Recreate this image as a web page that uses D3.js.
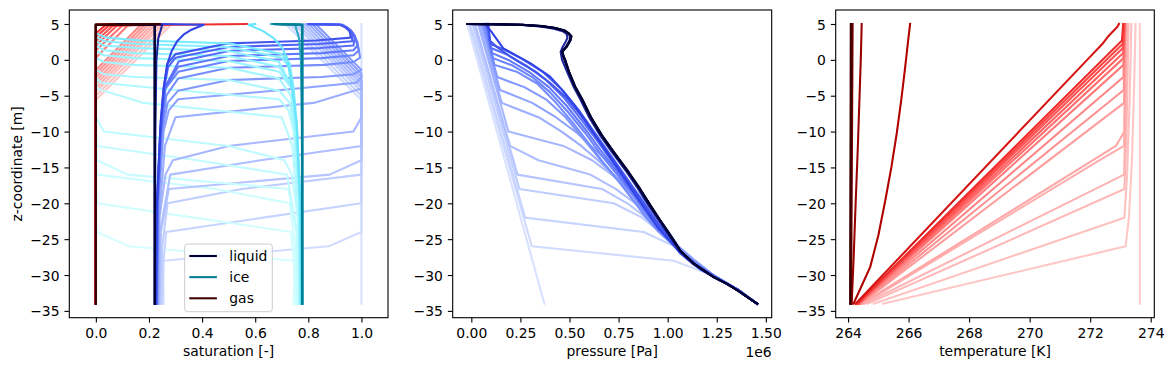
<!DOCTYPE html>
<html><head><meta charset="utf-8">
<script src="https://cdn.jsdelivr.net/npm/d3@7"></script>
<style>body{margin:0;background:#fff} svg{display:block} text{font-family:"DejaVu Sans",sans-serif;fill:#000}</style>
</head><body><svg id="c" width="1173" height="371"></svg>
<script>
// ---------------- data ----------------
const zTicks = [5, 0, -5, -10, -15, -20, -25, -30, -35];
const satTicks = [0, 0.2, 0.4, 0.6, 0.8, 1.0];
const presTicks = [0, 0.25, 0.5, 0.75, 1.0, 1.25, 1.5];   // x 1e6 Pa
const tempTicks = [264, 266, 268, 270, 272, 274];
const phaseNames = ["liquid", "ice", "gas"];

// each profile: list of [value, z]  (profiles ordered in time)
const liquidProfiles = [
 [[1,-34],[1,5]],
 [[0.255,-34],[0.254,-30],[0.253,-28],[0.876,-26],[1,-24],[1,-5.6],[0.72,4.8],[0.7,5]],
 [[0.25,-34],[0.255,-28],[0.265,-24],[0.63,-22],[1,-20],[1,-5.0],[0.735,4.8],[0.72,5]],
 [[0.245,-34],[0.25,-26],[0.27,-20],[0.55,-18],[1,-16],[1,-4.4],[0.752,4.8],[0.74,5]],
 [[0.24,-34],[0.245,-24],[0.275,-18],[0.88,-16],[1,-14],[1,-3.9],[0.765,4.8],[0.75,5]],
 [[0.238,-34],[0.242,-24],[0.28,-16],[0.62,-14],[1,-12],[1,-3.4],[0.779,4.8],[0.76,5]],
 [[0.236,-34],[0.24,-22],[0.262,-16],[0.29,-14],[0.5,-12],[0.97,-10],[1,-8],[1,-2.9],[0.792,4.8],[0.78,5]],
 [[0.234,-34],[0.238,-22],[0.26,-12],[0.3,-8],[0.82,-6],[1,-4],[1,-2.4],[0.806,4.8],[0.79,5]],
 [[0.232,-34],[0.236,-20],[0.255,-10],[0.275,-7],[0.31,-5.5],[0.7,-4.2],[0.98,-3.2],[1,-2.5],[1,-1.9],[0.819,4.8],[0.8,5]],
 [[0.231,-34],[0.235,-20],[0.25,-10],[0.27,-6],[0.31,-4.3],[0.5,-2.8],[0.85,-2.4],[0.97,-2.0],[1,-1.4],[0.833,4.8],[0.81,5]],
 [[0.23,-34],[0.234,-20],[0.248,-10],[0.265,-5],[0.31,-2.6],[0.5,-1.1],[0.86,-0.7],[0.97,-0.3],[0.995,0.3],[0.985,2.5],[0.97,3.6],[0.95,4.4],[0.93,4.9],[0.8,5]],
 [[0.23,-34],[0.233,-20],[0.246,-10],[0.262,-4],[0.31,-1.66],[0.5,-0.16],[0.85,0.24],[0.97,0.64],[0.99,1.3],[0.98,2.8],[0.965,3.8],[0.945,4.5],[0.925,4.9],[0.8,5]],
 [[0.229,-34],[0.232,-20],[0.245,-10],[0.26,-4],[0.31,-0.96],[0.5,0.54],[0.85,0.94],[0.97,1.34],[0.985,2.0],[0.975,3.3],[0.96,4.1],[0.94,4.6],[0.92,4.9],[0.8,5]],
 [[0.229,-34],[0.232,-20],[0.244,-10],[0.258,-4],[0.312,-0.23],[0.506,1.27],[0.845,1.64],[0.97,2.0],[0.975,3.3],[0.96,4.1],[0.94,4.6],[0.92,4.9],[0.8,5]],
 [[0.228,-34],[0.231,-20],[0.243,-10],[0.257,-4],[0.272,-1],[0.3,0.3],[0.5,1.8],[0.84,2.2],[0.965,2.6],[0.965,3.6],[0.95,4.4],[0.92,4.9],[0.8,5]],
 [[0.227,-34],[0.23,-20],[0.242,-10],[0.255,-4],[0.27,-0.5],[0.3,0.8],[0.5,2.3],[0.83,2.7],[0.96,3.1],[0.955,4.0],[0.94,4.5],[0.92,4.9],[0.8,5]],
 [[0.225,-34],[0.23,-20],[0.244,-8.6],[0.255,-4],[0.268,-0.7],[0.285,1.2],[0.306,2.6],[0.33,3.5],[0.36,4.2],[0.406,4.9],[0.25,5]],
 [[0.222,-34],[0.224,-10],[0.228,0],[0.235,3],[0.25,4.9],[0.1,5]],
 [[0.222,-34],[0.222,4.9],[0.09,5]],
 [[0.222,-34],[0.222,4.9],[0.088,5]],
 [[0.222,-34],[0.222,4.9],[0.085,5]],
 [[0.222,-34],[0.222,4.9],[0.08,5]]
];

const iceProfiles = [
 [[0,-34],[0,5]],
 [[0.745,-34],[0.746,-30],[0.747,-28],[0.124,-26],[0.005,-24],[0,-22],[0,5]],
 [[0.75,-34],[0.745,-28],[0.735,-24],[0.37,-22],[0.005,-20],[0,-18],[0,5]],
 [[0.755,-34],[0.75,-26],[0.73,-20],[0.45,-18],[0.004,-16],[0,-14],[0,5]],
 [[0.76,-34],[0.755,-24],[0.725,-18],[0.12,-16],[0.004,-14],[0,-12],[0,5]],
 [[0.762,-34],[0.758,-24],[0.72,-16],[0.38,-14],[0.004,-12],[0,-10],[0,5]],
 [[0.764,-34],[0.76,-22],[0.738,-16],[0.71,-14],[0.5,-12],[0.03,-10],[0,-8],[0,5]],
 [[0.766,-34],[0.762,-22],[0.74,-12],[0.7,-8],[0.18,-6],[0.003,-4],[0,5]],
 [[0.768,-34],[0.764,-20],[0.745,-10],[0.725,-7],[0.69,-5.5],[0.3,-4.2],[0.02,-3.2],[0,-2.5],[0,5]],
 [[0.769,-34],[0.765,-20],[0.75,-10],[0.73,-6],[0.69,-4.3],[0.5,-2.8],[0.15,-2.4],[0.03,-2.0],[0,-1.4],[0,5]],
 [[0.77,-34],[0.766,-20],[0.752,-10],[0.735,-5],[0.69,-2.6],[0.5,-1.1],[0.14,-0.7],[0.03,-0.3],[0,0.3],[0,5]],
 [[0.77,-34],[0.767,-20],[0.754,-10],[0.738,-4],[0.69,-1.66],[0.5,-0.16],[0.15,0.24],[0.03,0.64],[0,1.3],[0,5]],
 [[0.771,-34],[0.768,-20],[0.755,-10],[0.74,-4],[0.69,-0.96],[0.5,0.54],[0.15,0.94],[0.03,1.34],[0,2.0],[0,5]],
 [[0.771,-34],[0.768,-20],[0.756,-10],[0.742,-4],[0.688,-0.23],[0.494,1.27],[0.155,1.64],[0.03,2.0],[0,2.6],[0,5]],
 [[0.772,-34],[0.769,-20],[0.757,-10],[0.743,-4],[0.728,-1],[0.7,0.3],[0.5,1.8],[0.16,2.2],[0.035,2.6],[0,3.2],[0,5]],
 [[0.773,-34],[0.77,-20],[0.758,-10],[0.745,-4],[0.73,-0.5],[0.7,0.8],[0.5,2.3],[0.17,2.7],[0.04,3.1],[0,3.7],[0,5]],
 [[0.775,-34],[0.77,-20],[0.756,-8.6],[0.744,-5.35],[0.73,-2],[0.72,0.24],[0.7,1.8],[0.669,3.04],[0.63,4.0],[0.575,4.9],[0.6,5]],
 [[0.778,-34],[0.776,-10],[0.772,0],[0.765,3],[0.75,4.9],[0.66,5]],
 [[0.778,-34],[0.778,4.9],[0.67,5]],
 [[0.777,-34],[0.777,4.9],[0.67,5]],
 [[0.777,-34],[0.777,4.9],[0.67,5]],
 [[0.776,-34],[0.776,4.9],[0.67,5]]
];

const gasProfiles = [
 [[0,-34],[0,5]],
 [[0,-34],[0,-5.6],[0.28,4.8],[0.3,5]],
 [[0,-34],[0,-5.0],[0.265,4.8],[0.28,5]],
 [[0,-34],[0,-4.4],[0.248,4.8],[0.26,5]],
 [[0,-34],[0,-3.9],[0.235,4.8],[0.25,5]],
 [[0,-34],[0,-3.4],[0.221,4.8],[0.24,5]],
 [[0,-34],[0,-2.9],[0.208,4.8],[0.22,5]],
 [[0,-34],[0,-2.4],[0.194,4.8],[0.21,5]],
 [[0,-34],[0,-1.9],[0.181,4.8],[0.2,5]],
 [[0,-34],[0,-1.4],[0.167,4.8],[0.19,5]],
 [[0,-34],[0,0.3],[0.12,4.8],[0.2,5]],
 [[0,-34],[0,1.3],[0.1,4.8],[0.2,5]],
 [[0,-34],[0,2.0],[0.08,4.8],[0.2,5]],
 [[0,-34],[0,2.6],[0.065,4.8],[0.2,5]],
 [[0,-34],[0,3.2],[0.05,4.8],[0.2,5]],
 [[0,-34],[0,3.7],[0.035,4.8],[0.57,5]],
 [[0,-34],[0,4.9],[0.15,5]],
 [[0,-34],[0,4.9],[0.24,5]],
 [[0,-34],[0,4.9],[0.24,5]],
 [[0,-34],[0,4.9],[0.24,5]],
 [[0,-34],[0,4.9],[0.24,5]],
 [[0,-34],[0,4.9],[0.24,5]]
];

// pressure in 1e6 Pa
const pressureProfiles = [
 [[-0.021,5],[0.372,-34]],
 [[-0.013,5],[0.308,-26],[1.031,-28],[1.225,-30],[1.352,-32],[1.456,-34]],
 [[-0.006,5],[0.274,-22],[0.878,-24],[1.035,-26],[1.13,-28],[1.228,-30],[1.352,-32],[1.456,-34]],
 [[0.006,5],[0.245,-18],[0.725,-20],[0.87,-22],[0.96,-24],[1.035,-26],[1.13,-28],[1.228,-30],[1.353,-32],[1.456,-34]],
 [[0.016,5],[0.235,-16],[0.665,-18],[0.795,-20],[0.89,-22],[0.97,-24],[1.04,-26],[1.133,-28],[1.229,-30],[1.353,-32],[1.456,-34]],
 [[0.019,5],[0.197,-12],[0.342,-14],[0.606,-16],[0.735,-18],[0.835,-20],[0.915,-22],[0.985,-24],[1.045,-26],[1.135,-28],[1.23,-30],[1.354,-32],[1.456,-34]],
 [[0.034,5],[0.189,-10],[0.469,-12],[0.615,-14],[0.715,-16],[0.8,-18],[0.875,-20],[0.94,-22],[1.0,-24],[1.05,-26],[1.138,-28],[1.231,-30],[1.354,-32],[1.456,-34]],
 [[0.04,5],[0.155,-6],[0.342,-8],[0.46,-10],[0.56,-12],[0.645,-14],[0.725,-16],[0.795,-18],[0.865,-20],[0.93,-22],[0.99,-24],[1.048,-26],[1.138,-28],[1.231,-30],[1.354,-32],[1.456,-34]],
 [[0.051,5],[0.146,-4.2],[0.31,-6],[0.43,-8],[0.53,-10],[0.61,-12],[0.69,-14],[0.76,-16],[0.83,-18],[0.89,-20],[0.95,-22],[1.005,-24],[1.055,-26],[1.14,-28],[1.232,-30],[1.354,-32],[1.456,-34]],
 [[0.058,5],[0.132,-2.4],[0.27,-3.8],[0.38,-5.5],[0.48,-8],[0.57,-11],[0.66,-14],[0.74,-16.5],[0.81,-19],[0.88,-21.5],[0.945,-23.5],[1.0,-25],[1.06,-26.5],[1.142,-28.2],[1.233,-30],[1.354,-32],[1.456,-34]],
 [[0.065,5],[0.118,-0.7],[0.235,-1.7],[0.335,-3.3],[0.425,-5.8],[0.515,-8.7],[0.6,-11.7],[0.68,-14.6],[0.755,-17.1],[0.825,-19.6],[0.89,-22],[0.955,-24],[1.015,-25.5],[1.065,-26.8],[1.145,-28.4],[1.234,-30],[1.355,-32],[1.456,-34]],
 [[0.072,5],[0.11,0.24],[0.21,-0.8],[0.31,-2.4],[0.4,-4.5],[0.49,-7.2],[0.58,-10.2],[0.66,-13.2],[0.74,-15.9],[0.815,-18.6],[0.885,-21.2],[0.95,-23.5],[1.02,-25.4],[1.075,-27],[1.15,-28.6],[1.236,-30.1],[1.355,-32],[1.456,-34]],
 [[0.076,5],[0.106,0.94],[0.195,-0.1],[0.295,-1.7],[0.395,-3.8],[0.485,-6.4],[0.575,-9.5],[0.658,-12.6],[0.738,-15.4],[0.812,-18.2],[0.883,-20.9],[0.95,-23.3],[1.02,-25.35],[1.08,-27.1],[1.152,-28.7],[1.237,-30.2],[1.355,-32],[1.456,-34]],
 [[0.08,5],[0.1,1.64],[0.185,0.7],[0.28,-0.8],[0.38,-2.8],[0.472,-5.3],[0.562,-8.4],[0.65,-11.6],[0.73,-14.7],[0.806,-17.7],[0.88,-20.5],[0.95,-23.1],[1.021,-25.3],[1.085,-27.2],[1.155,-28.8],[1.238,-30.2],[1.356,-32],[1.456,-34]],
 [[0.084,5],[0.097,2.2],[0.17,1.4],[0.26,0.1],[0.36,-1.6],[0.455,-4.0],[0.55,-7.1],[0.64,-10.6],[0.725,-13.9],[0.805,-17],[0.88,-20.1],[0.953,-23],[1.024,-25.3],[1.09,-27.4],[1.16,-29],[1.24,-30.3],[1.356,-32],[1.456,-34]],
 [[0.087,5],[0.094,2.7],[0.13,1.8],[0.197,0.47],[0.26,-0.6],[0.325,-1.6],[0.4,-3.2],[0.478,-5.1],[0.56,-7.8],[0.645,-11],[0.73,-14.2],[0.81,-17.4],[0.885,-20.3],[0.958,-23.1],[1.03,-25.5],[1.095,-27.6],[1.165,-29.2],[1.242,-30.4],[1.357,-32],[1.456,-34]],
 [[0.07,5],[0.1,4],[0.163,1.6],[0.3,-0.45],[0.4,-2.3],[0.47,-4.4],[0.53,-6.5],[0.6,-9.3],[0.675,-12.3],[0.75,-15.3],[0.82,-18.2],[0.89,-21],[0.95,-23.4],[1.01,-25.2],[1.065,-27],[1.135,-28.6],[1.236,-30.3],[1.358,-32.1],[1.456,-34]],
 [[-0.015,5],[0.12,4.95],[0.26,4.85],[0.36,4.62],[0.42,4.35],[0.465,4.0],[0.485,3.6],[0.49,3.1],[0.48,2.5],[0.465,1.8],[0.455,1.1],[0.462,0],[0.49,-1.8],[0.52,-3.7],[0.555,-5.5],[0.6,-8],[0.655,-10.5],[0.72,-13],[0.79,-15.6],[0.85,-18],[0.905,-20.4],[0.955,-22.4],[1.008,-24.5],[1.06,-26.6],[1.13,-28.4],[1.234,-30.3],[1.3,-31.2],[1.36,-32.2],[1.456,-34]],
 [[-0.018,5],[0.11,4.96],[0.257,4.88],[0.36,4.68],[0.425,4.42],[0.472,4.06],[0.492,3.7],[0.505,3.28],[0.5,2.7],[0.483,1.87],[0.461,1.15],[0.468,0.5],[0.475,0],[0.497,-1.8],[0.526,-3.7],[0.562,-5.5],[0.607,-8],[0.662,-10.5],[0.727,-13],[0.797,-15.6],[0.857,-18],[0.912,-20.4],[0.961,-22.4],[1.013,-24.5],[1.063,-26.6],[1.132,-28.4],[1.235,-30.3],[1.3,-31.2],[1.36,-32.2],[1.456,-34]],
 [[-0.019,5],[0.105,4.965],[0.257,4.89],[0.36,4.69],[0.426,4.43],[0.473,4.08],[0.493,3.72],[0.507,3.29],[0.502,2.7],[0.485,1.87],[0.462,1.16],[0.468,0.5],[0.476,0],[0.498,-1.8],[0.527,-3.7],[0.563,-5.5],[0.608,-8],[0.663,-10.5],[0.728,-13],[0.798,-15.6],[0.858,-18],[0.913,-20.4],[0.962,-22.4],[1.014,-24.5],[1.064,-26.6],[1.133,-28.4],[1.235,-30.3],[1.3,-31.2],[1.36,-32.2],[1.456,-34]],
 [[-0.02,5],[0.1,4.97],[0.257,4.9],[0.36,4.7],[0.427,4.44],[0.474,4.1],[0.494,3.74],[0.509,3.3],[0.504,2.7],[0.486,1.87],[0.463,1.17],[0.469,0.5],[0.477,0],[0.499,-1.8],[0.528,-3.7],[0.564,-5.5],[0.609,-8],[0.664,-10.5],[0.729,-13],[0.799,-15.6],[0.859,-18],[0.914,-20.4],[0.962,-22.4],[1.014,-24.5],[1.064,-26.6],[1.133,-28.4],[1.235,-30.3],[1.3,-31.2],[1.36,-32.2],[1.456,-34]],
 [[-0.021,5],[0.1,4.97],[0.257,4.9],[0.36,4.7],[0.427,4.44],[0.475,4.1],[0.495,3.74],[0.51,3.3],[0.505,2.7],[0.487,1.87],[0.464,1.17],[0.47,0.5],[0.478,0],[0.5,-1.8],[0.529,-3.7],[0.565,-5.5],[0.61,-8],[0.665,-10.5],[0.73,-13],[0.8,-15.6],[0.86,-18],[0.915,-20.4],[0.963,-22.4],[1.015,-24.5],[1.065,-26.6],[1.133,-28.4],[1.235,-30.3],[1.3,-31.2],[1.36,-32.2],[1.456,-34]]
];

// temperature in K
const temperatureProfiles = [
 [[273.64,-34],[273.64,5]],
 [[265.15,-34],[273.17,-26],[273.28,-22],[273.38,-14],[273.45,-4],[273.5,5]],
 [[264.85,-34],[273.13,-22],[273.22,-16],[273.3,-6],[273.36,5]],
 [[264.65,-34],[273.13,-18],[273.2,-10],[273.27,5]],
 [[264.55,-34],[273.12,-16],[273.17,-8],[273.22,5]],
 [[264.5,-34],[272.3,-14],[273.12,-12],[273.16,-4],[273.2,5]],
 [[264.45,-34],[272.85,-12],[273.13,-10],[273.15,0],[273.18,5]],
 [[264.42,-34],[273.12,-6],[273.14,0],[273.16,5]],
 [[264.4,-34],[273.11,-4.2],[273.15,5]],
 [[264.38,-34],[273.1,-2.4],[273.15,5]],
 [[264.36,-34],[273.1,-0.7],[273.14,5]],
 [[264.35,-34],[273.1,0.24],[273.14,5]],
 [[264.34,-34],[273.09,0.94],[273.13,5]],
 [[264.33,-34],[273.08,1.64],[273.12,5]],
 [[264.31,-34],[273.07,2.2],[273.11,5]],
 [[264.29,-34],[273.05,2.7],[273.09,5]],
 [[264.25,-34],[271.9,0],[272.4,2.2],[272.6,3.3],[272.78,4.1],[272.9,4.6],[272.95,5]],
 [[264.18,-34],[264.45,-31.5],[264.73,-28.9],[265.0,-24.5],[265.23,-19.6],[265.43,-15],[265.61,-10.2],[265.76,-5.5],[265.89,-0.9],[265.98,2.5],[266.05,5]],
 [[264.12,-34],[264.19,-27],[264.25,-20],[264.32,-12.5],[264.38,-5],[264.42,0],[264.45,5]],
 [[264.1,-34],[264.15,5]],
 [[264.08,-34],[264.11,5]],
 [[264.07,-34],[264.09,5]]
];

// ---------------- drawing ----------------
const svg = d3.select('#c');
const axTop = 10, axBottom = 317.7;
const nProf = liquidProfiles.length;
const padDomain = (ext) => { const m = (ext[1] - ext[0]) * 0.05; return [ext[0] - m, ext[1] + m]; };

const allZ = liquidProfiles.flat().map(d => d[1]);
const yScale = d3.scaleLinear().domain(padDomain(d3.extent(allZ))).range([axBottom, axTop]);

const stopsT = [0, 0.3, 0.5, 0.68, 0.76, 0.81, 0.86, 0.93, 1];
const blueMap = d3.scaleLinear().domain(stopsT)
  .range(['#d8e2ff','#a3b5ff','#7088ff','#4d61f5','#3345e8','#1c2699','#10156a','#070945','#000033']);
const redMap = d3.scaleLinear().domain(stopsT)
  .range(['#ffcccc','#ffa5a5','#ff7575','#ff4040','#d81414','#b00000','#990000','#600000','#3a0000']);
const cyanMap = d3.scaleLinear().domain(stopsT)
  .range(['#dcffff','#bdfaff','#a0f5ff','#84efff','#6be6ff','#2aa8c0','#1a95ad','#0c8aa0','#007f96']);
const tOf = k => k / (nProf - 1);
const LW = 2.08;

const fmtSat = d3.format('.1f'), fmtPres = d3.format('.2f'), fmtTemp = d3.format('d'), fmtZ = d3.format('d');

function makePanel(x0, x1, xDomain, xTicks, xFmt, xLabel, id) {
  const xScale = d3.scaleLinear().domain(xDomain).range([x0, x1]);
  const g = svg.append('g');
  g.append('clipPath').attr('id', 'clip' + id).append('rect')
    .attr('x', x0).attr('y', axTop).attr('width', x1 - x0).attr('height', axBottom - axTop);
  const plot = g.append('g').attr('clip-path', `url(#clip${id})`);
  const xAxis = d3.axisBottom(xScale).tickValues(xTicks).tickFormat(xFmt).tickSize(4.86).tickPadding(4.9);
  const yAxis = d3.axisLeft(yScale).tickValues(zTicks).tickFormat(fmtZ).tickSize(4.86).tickPadding(4.9);
  const gx = g.append('g').attr('transform', `translate(0,${axBottom})`).call(xAxis);
  const gy = g.append('g').attr('transform', `translate(${x0},0)`).call(yAxis);
  [gx, gy].forEach(a => {
    a.select('.domain').remove();
    a.selectAll('line').attr('stroke', '#000').attr('stroke-width', 1.1);
    a.selectAll('text').attr('font-size', 13.9).attr('font-family', '"DejaVu Sans",sans-serif').attr('fill', '#000');
  });
  gx.selectAll('text').attr('dy', '0.76em');
  gy.selectAll('text').attr('dy', '0.36em');
  g.append('text').attr('x', (x0 + x1) / 2).attr('y', 356).attr('text-anchor', 'middle')
    .attr('font-size', 13.9).text(xLabel);
  return { xScale, plot, g };
}

function drawLines(panel, profiles, cmap) {
  const line = d3.line().x(d => panel.xScale(d[0])).y(d => yScale(d[1]));
  return (k) => {
    panel.plot.append('path').attr('d', line(profiles[k])).attr('fill', 'none')
      .attr('stroke', cmap(tOf(k))).attr('stroke-width', LW)
      .attr('stroke-linejoin', 'round').attr('stroke-linecap', 'square');
  };
}

// Panel 1: saturation
const p1 = makePanel(69.3, 388, [-0.1, 1.1], satTicks, fmtSat, 'saturation [-]', 1);
const dl = drawLines(p1, liquidProfiles, blueMap);
const di = drawLines(p1, iceProfiles, cyanMap);
const dg = drawLines(p1, gasProfiles, redMap);
for (let k = 0; k < nProf; k++) { dl(k); di(k); dg(k); }

// Panel 2: pressure
const presExt = d3.extent(pressureProfiles.flat().map(d => d[0]));
const p2 = makePanel(452.7, 771.7, padDomain(presExt), presTicks, fmtPres, 'pressure [Pa]', 2);
const dp = drawLines(p2, pressureProfiles, blueMap);
for (let k = 0; k < nProf; k++) dp(k);
p2.g.append('text').attr('x', 771.7).attr('y', 356.5).attr('text-anchor', 'end')
  .attr('font-size', 13.9).text('1e6');

// Panel 3: temperature
const tempExt = d3.extent(temperatureProfiles.flat().map(d => d[0]));
const p3 = makePanel(835.7, 1154.3, padDomain(tempExt), tempTicks, fmtTemp, 'temperature [K]', 3);
const dt = drawLines(p3, temperatureProfiles, redMap);
for (let k = 0; k < nProf; k++) dt(k);

// frames
[[69.3, 388], [452.7, 771.7], [835.7, 1154.3]].forEach(([a, b]) => {
  svg.append('rect').attr('x', a).attr('y', axTop).attr('width', b - a).attr('height', axBottom - axTop)
    .attr('fill', 'none').attr('stroke', '#000').attr('stroke-width', 1.1);
});

// y label
svg.append('text').attr('transform', `translate(21.5,${(axTop + axBottom) / 2}) rotate(-90)`)
  .attr('text-anchor', 'middle').attr('font-size', 13.9).text('z-coordinate [m]');

// legend
const legColors = [blueMap(1), cyanMap(1), redMap(1)];
const lg = svg.append('g');
lg.append('rect').attr('x', 184.7).attr('y', 244).attr('width', 87.6).attr('height', 67.7)
  .attr('rx', 2.8).attr('fill', '#fff').attr('fill-opacity', 0.8).attr('stroke', '#cccccc').attr('stroke-width', 1);
phaseNames.forEach((name, i) => {
  const cy = 256 + i * 21.15;
  lg.append('line').attr('x1', 189.3).attr('x2', 216.9).attr('y1', cy).attr('y2', cy)
    .attr('stroke', legColors[i]).attr('stroke-width', LW);
  lg.append('text').attr('x', 229.3).attr('y', cy).attr('dy', '0.36em').attr('font-size', 13.9).text(name);
});
</script>
</body></html>
